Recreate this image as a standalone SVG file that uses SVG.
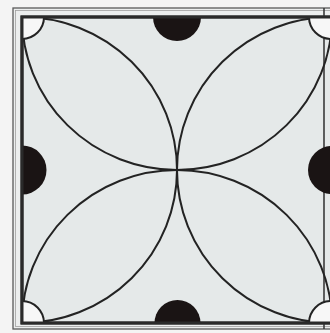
<svg xmlns="http://www.w3.org/2000/svg" width="330" height="333" viewBox="0 0 330 333">
  <defs>
    <clipPath id="sq"><rect x="22" y="17" width="310" height="306"/></clipPath>
    <style>
      .arc { fill: none; stroke: #232323; stroke-width: 2; }
      .dot { fill: #1a1414; }
      .corner { fill: #f7f7f7; stroke: #232323; stroke-width: 2; }
    </style>
  </defs>
  <rect width="330" height="333" fill="#f4f4f4"/>
  <g id="frame">
    <rect x="13" y="8" width="330" height="321" fill="#eceeee" stroke="#5a5a5a" stroke-width="1.3"/>
    <rect x="15.5" y="10.5" width="330" height="316" fill="none" stroke="#a0a0a0" stroke-width="0.8"/>
    <rect x="22" y="17" width="310" height="306" fill="#e5e9e9" stroke="#2a2a2a" stroke-width="3"/>
    <line x1="324" y1="8" x2="324" y2="329" stroke="#3a3a3a" stroke-width="1.6"/>
  </g>
  <g id="petals" clip-path="url(#sq)">
    <path class="arc" d="M22,17 A155,153 0 0 0 332,17"/>
    <path class="arc" d="M22,323 A155,153 0 0 1 332,323"/>
    <path class="arc" d="M22,17 A155,153 0 0 1 22,323"/>
    <path class="arc" d="M332,17 A155,153 0 0 0 332,323"/>
  </g>
  <g id="half-discs">
    <g id="disc-top" clip-path="url(#sq)"><circle class="dot" cx="177" cy="17" r="24"/></g>
    <g id="disc-bottom" clip-path="url(#sq)"><circle class="dot" cx="177.5" cy="323" r="23"/></g>
    <g id="disc-left" clip-path="url(#sq)"><circle class="dot" cx="22" cy="170" r="24.5"/></g>
    <g id="disc-right"><circle class="dot" cx="332" cy="170" r="24"/></g>
  </g>
  <g id="corners" clip-path="url(#sq)">
    <circle class="corner" cx="22" cy="17" r="22"/>
    <circle class="corner" cx="331" cy="17" r="22"/>
    <circle class="corner" cx="22" cy="323" r="22"/>
    <circle class="corner" cx="331" cy="323" r="22"/>
  </g>
  <g id="border-top">
    <rect x="22" y="17" width="310" height="306" fill="none" stroke="#2a2a2a" stroke-width="3"/>
  </g>
</svg>
